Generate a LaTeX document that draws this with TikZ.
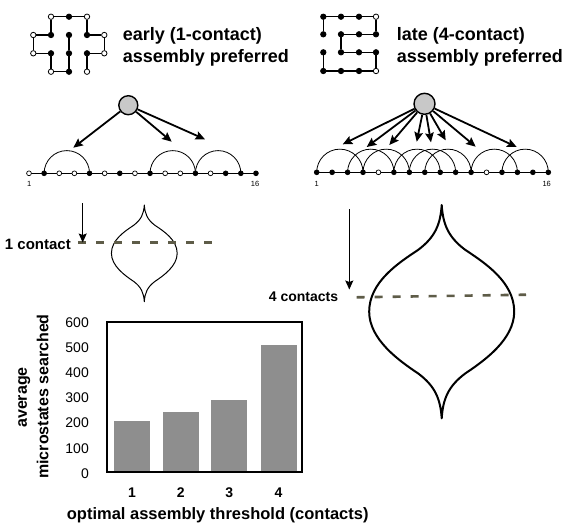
\documentclass[tikz,border=0pt]{standalone}
\usepackage{fontspec}
\setmainfont{Liberation Sans}
\usetikzlibrary{arrows.meta,backgrounds}
\definecolor{hubgray}{HTML}{C8C8C8}
\definecolor{bargray}{HTML}{8E8E8E}
\definecolor{levelolive}{HTML}{5E5C48}
\tikzset{
  site/.style={circle,draw=black,line width=0.8pt,fill=#1,inner sep=0pt,minimum size=5.4pt},
  bead/.style={circle,draw=black,line width=0.7pt,fill=#1,inner sep=0pt,minimum size=4.8pt},
  bond/.style={line width=1.4pt},
  backbone/.style={line width=1.1pt},
  contact/.style={line width=0.8pt},
  hub/.style={circle,draw=black,line width=1.4pt,fill=hubgray,inner sep=0pt,minimum size=#1},
  ptr/.style={line width=1.8pt,-{Stealth[length=9.5pt,width=8.5pt,inset=1.5pt]}},
  dropline/.style={line width=1.2pt,-{Stealth[length=9pt,width=8pt,inset=1.5pt]}},
  level/.style={levelolive,line width=#1,dash pattern=on 8pt off 10pt},
  lbl/.style={inner sep=0pt},
  bulb/.pic={
    \draw[pic actions,line join=round]
      (0,0) .. controls (0.006,0.09) and (0.03,0.15) .. (0.11,0.21)
            .. controls (0.2,0.27) and (0.34,0.36) .. (0.34,0.5)
            .. controls (0.34,0.63) and (0.2,0.73) .. (0.11,0.79)
            .. controls (0.03,0.85) and (0.006,0.91) .. (0,1)
            .. controls (-0.006,0.91) and (-0.03,0.85) .. (-0.11,0.79)
            .. controls (-0.2,0.73) and (-0.34,0.63) .. (-0.34,0.5)
            .. controls (-0.34,0.36) and (-0.2,0.27) .. (-0.11,0.21)
            .. controls (-0.03,0.15) and (-0.006,0.09) .. (0,0) -- cycle;
  }
}
\newcommand\titlefont{\fontsize{18}{21}\selectfont\bfseries}
\begin{document}
\begin{tikzpicture}[x=1pt,y=-1pt]
\useasboundingbox (0,0) rectangle (564,523);

% ---------- lattice conformations ----------
\foreach \x/\y/\c [count=\i] in {87/71.7/white, 87/53.3/black, 104.3/53.3/white, 104.3/35/white,
  87/35/black, 87/16.7/white, 69/16.7/black, 51/16.7/white, 51/35/black, 33.3/35/white,
  33.3/53.3/white, 51/53.3/black, 51/71.7/white, 69/71.7/black, 69/53.3/black, 69/35/black}
  \node[site=\c] (p\i) at (\x,\y) {};
\foreach \i [evaluate=\i as \j using int(\i+1)] in {1,...,15}
  \draw[bond] (p\i) -- (p\j);

\foreach \x/\y/\c [count=\i] in {323.3/34.3/black, 323.3/16.7/black, 341/16.7/black, 359/16.7/black,
  376/16.7/white, 376/34.3/black, 359/34.3/black, 341/34.3/black, 341/52.3/black, 359/52.3/black,
  376/52.3/black, 376/71/white, 359/71/black, 341/71/black, 323.3/71/black, 323.3/52.3/black}
  \node[site=\c] (q\i) at (\x,\y) {};
\foreach \i [evaluate=\i as \j using int(\i+1)] in {1,...,15}
  \draw[bond] (q\i) -- (q\j);

% ---------- titles ----------
\node[lbl,anchor=base west,font=\titlefont] (tl1) at (122.7,40) {early (1-contact)};
\node[lbl,anchor=base west,font=\titlefont] (tl2) at (122.7,62) {assembly preferred};
\node[lbl,anchor=base west,font=\titlefont] (tr1) at (396.7,40) {late (4-contact)};
\node[lbl,anchor=base west,font=\titlefont] (tr2) at (396.7,62) {assembly preferred};

% ---------- linear chains with contact arcs ----------
\foreach \c [count=\i] in {white,black,white,white,black,white,black,white,
  black,white,white,black,white,black,black,black}
  \node[bead=\c] (a\i) at ({29+15.13*(\i-1)},173.3) {};
\foreach \c [count=\i] in {black,black,black,black,white,black,black,black,
  black,black,black,white,black,black,black,black}
  \node[bead=\c] (b\i) at ({316.7+15.44*(\i-1)},172.3) {};

\begin{scope}[on background layer]
  \fill[white] (0,0) rectangle (564,523);
  \foreach \i [evaluate=\i as \j using int(\i+1)] in {1,...,15} {
    \draw[backbone] (a\i.center) -- (a\j.center);
    \draw[backbone] (b\i.center) -- (b\j.center);
  }
  \foreach \s in {2,9,12}
    \draw[contact] (a\s.center) arc[start angle=180,end angle=360,radius=22.7];
  \foreach \s in {1,3,4,6,7,8,11,13}
    \draw[contact] (b\s.center) arc[start angle=180,end angle=360,radius=23.16];
\end{scope}

\node[lbl,font=\fontsize{7.5}{8}\selectfont] (a1n) at (29.3,184) {1};
\node[lbl,font=\fontsize{7.5}{8}\selectfont] (a16n) at (255,184) {16};
\node[lbl,font=\fontsize{7.5}{8}\selectfont] (b1n) at (316.7,184) {1};
\node[lbl,font=\fontsize{7.5}{8}\selectfont] (b16n) at (546.7,184) {16};

% ---------- nucleation hubs and their arrows ----------
\node[hub=19pt] (hL) at (128.3,105.2) {};
\coordinate (tL1) at (73.3,147.7);
\coordinate (tL2) at (171.7,141.7);
\coordinate (tL3) at (205,139.3);
\foreach \k in {1,2,3} \draw[ptr] (hL) -- (tL\k);

\node[hub=21pt] (hR) at (424.5,103.8) {};
\foreach \x/\y [count=\k] in {342.7/144.3, 366.7/147, 389.3/145, 416.7/141.7,
  431/142.3, 445.7/140.3, 475.7/146.7, 516.7/147} {
  \coordinate (tR\k) at (\x,\y);
  \draw[ptr] (hR) -- (tR\k);
}

% ---------- free-energy profiles ----------
\pic[line width=1pt,scale=96.7] (bulbL) at (144.3,205) {bulb};
\pic[line width=2pt,scale=213.3] (bulbR) at (441.7,205) {bulb};

\coordinate (lvL1) at (78,242.7);
\coordinate (lvL2) at (213,242.7);
\draw[level=3pt] (lvL1) -- (lvL2);
\coordinate (lvR1) at (356.7,297.3);
\coordinate (lvR2) at (526,294.7);
\draw[level=2.6pt] (lvR1) -- (lvR2);

\coordinate (dL1) at (82.7,203);
\coordinate (dL2) at (82.7,242.5);
\draw[dropline] (dL1) -- (dL2);
\coordinate (dR1) at (349.3,209.3);
\coordinate (dR2) at (349.3,289.5);
\draw[dropline] (dR1) -- (dR2);

\node[lbl,anchor=base east,font=\fontsize{15}{18}\selectfont\bfseries] (c1lab) at (71,249.5) {1 contact};
\node[lbl,anchor=base east,font=\fontsize{14}{17}\selectfont\bfseries] (c4lab) at (338.3,301) {4 contacts};

% ---------- bar chart ----------
\foreach \cx/\top in {132/421.1, 180.8/411.8, 229.3/400.0, 278.5/344.8}
  \fill[bargray] (\cx-18,471) rectangle (\cx+18,\top);
\draw[line width=2pt] (107.3,321.7) rectangle (302.3,472.3);

\foreach \v in {0,100,200,300,400,500,600}
  \node[lbl,anchor=east,font=\fontsize{14}{16}\selectfont] (tick\v) at (89,{473.3-0.251*\v}) {\v};

\foreach \cx [count=\k] in {132,180.8,229.3,278.5}
  \node[lbl,font=\fontsize{14}{16}\selectfont\bfseries] (cat\k) at (\cx,492.7) {\k};

\node[lbl,rotate=90,font=\fontsize{16}{18}\selectfont\bfseries] (ylab1) at (24.3,397.5) {average};
\node[lbl,rotate=90,font=\fontsize{16}{18}\selectfont\bfseries] (ylab2) at (42.7,396.5) {microstates searched};
\node[lbl,anchor=base west,font=\fontsize{16.5}{19}\selectfont\bfseries] (xlab) at (66.7,519) {optimal assembly threshold (contacts)};
\end{tikzpicture}
\end{document}
